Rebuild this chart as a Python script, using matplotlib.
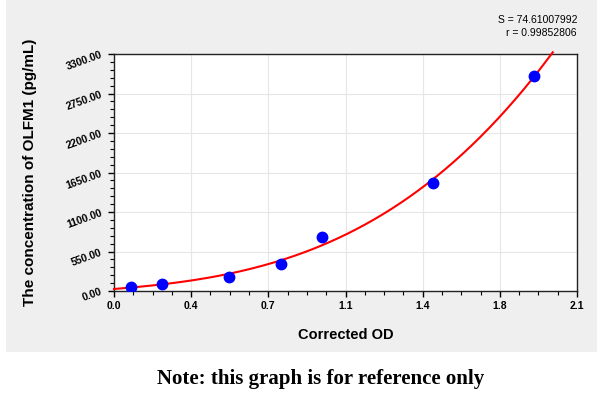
import numpy as np
import matplotlib
matplotlib.use('Agg')
import matplotlib.pyplot as plt
from matplotlib.patches import Rectangle
from matplotlib.ticker import FormatStrFormatter, AutoMinorLocator

# standards
od = [0.076, 0.216, 0.523, 0.757, 0.942, 1.447, 1.905]
conc = [56, 102, 191, 380, 756, 1500, 2998]

x_ticks = [0.0, 0.35, 0.7, 1.05, 1.4, 1.75, 2.1]
x_labels = ['0.0', '0.4', '0.7', '1.1', '1.4', '1.8', '2.1']
y_ticks = [0, 550, 1100, 1650, 2200, 2750, 3300]

s_text = 'S = 74.61007992'
r_text = 'r = 0.99852806'

plt.rcParams['font.family'] = ['Liberation Sans', 'DejaVu Sans']

fig = plt.figure(figsize=(6, 3.97), dpi=100)
fig.patch.set_facecolor('white')

# gray panel behind the chart
bg = fig.add_axes([0, 0, 1, 1], zorder=0)
bg.add_patch(Rectangle((6 / 600, 1 - 352 / 397), 591 / 600, 352 / 397,
                       facecolor='#efefef', edgecolor='none'))
bg.set_xlim(0, 1)
bg.set_ylim(0, 1)
bg.axis('off')

ax = fig.add_axes([114 / 600, 1 - 291 / 397, 463 / 600, 237 / 397], zorder=2)
ax.set_facecolor('white')

# fitted curve (cubic on the standards)
coef = np.polyfit(od, conc, 3)
xs = np.linspace(0, 1.99, 200)
ax.plot(xs, np.polyval(coef, xs), color='#ff0000', lw=1.5, zorder=3, clip_on=False)
ax.plot(od, conc, 'o', color='#0000ff', ms=7.5, zorder=4)

ax.set_xlim(0, 2.1)
ax.set_ylim(0, 3300)
ax.set_xticks(x_ticks, x_labels)
ax.set_yticks(y_ticks)
ax.yaxis.set_major_formatter(FormatStrFormatter('%.2f'))
ax.xaxis.set_minor_locator(AutoMinorLocator(4))
ax.yaxis.set_minor_locator(AutoMinorLocator(5))
ax.tick_params(which='major', direction='out', length=4, width=1, labelsize=7.5)
ax.tick_params(which='minor', direction='out', length=3, width=0.8)
for lab in ax.get_xticklabels():
    lab.set_fontweight('bold')
for lab in ax.get_yticklabels():
    lab.set_fontweight('bold')
    lab.set_rotation(20)
ax.grid(True, which='major', color='#e6e6e6', lw=0.8)
ax.set_axisbelow(True)
for sp in ax.spines.values():
    sp.set_linewidth(1.0)
    sp.set_color('#222222')

ax.set_xlabel('Corrected OD', fontsize=10.5, fontweight='bold', labelpad=12)
ax.set_ylabel('The concentration of OLFM1 (pg/mL)', fontsize=11,
              fontweight='bold', labelpad=20)

fig.text(577 / 600, 1 - 20 / 397, s_text, ha='right', va='center', fontsize=7.5)
fig.text(577 / 600, 1 - 33 / 397, r_text, ha='right', va='center', fontsize=7.5)

fig.text(321 / 600, 1 - 379 / 397, 'Note: this graph is for reference only',
         ha='center', va='center', fontsize=15, fontweight='bold',
         family=['Liberation Serif', 'DejaVu Serif'])

fig.savefig('out.png', dpi=100)
